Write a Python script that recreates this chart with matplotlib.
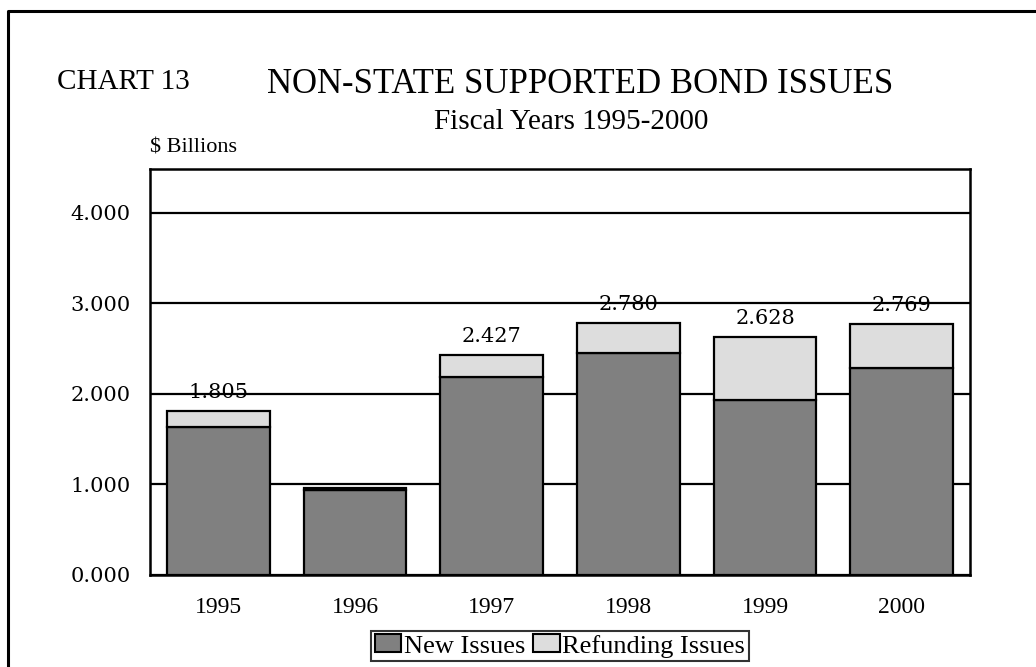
import matplotlib
matplotlib.use("Agg")
import matplotlib.pyplot as plt
from matplotlib.lines import Line2D
from matplotlib.patches import Patch
from matplotlib.ticker import FormatStrFormatter

years = ["1995", "1996", "1997", "1998", "1999", "2000"]
new_issues = [1.635, 0.935, 2.190, 2.455, 1.930, 2.280]
refunding_issues = [0.170, 0.025, 0.237, 0.325, 0.698, 0.489]
total_labels = ["1.805", "", "2.427", "2.780", "2.628", "2.769"]
y_ticks = [0, 1, 2, 3, 4]

W, H = 1036, 667
fig = plt.figure(figsize=(W / 100, H / 100), dpi=100)

def fx(px):
    return px / W

def fy(py):
    return 1 - py / H

left, right, top, bottom = 150, 970, 169, 575
ax = fig.add_axes([fx(left), fy(bottom), fx(right - left), (bottom - top) / H])

dark = "#808080"
light = "#dddddd"
x = list(range(len(years)))
bw = 0.75
ax.bar(x, new_issues, width=bw, color=dark, edgecolor="black", linewidth=1.6, zorder=3)
ax.bar(x, refunding_issues, width=bw, bottom=new_issues, color=light,
       edgecolor="black", linewidth=1.6, zorder=3)

for i, lab in enumerate(total_labels):
    if lab:
        tot = new_issues[i] + refunding_issues[i]
        ax.annotate(lab, (x[i], tot), xytext=(0, 6.5), textcoords="offset points",
                    ha="center", va="bottom", fontsize=15, family="DejaVu Serif",
                    zorder=4)

ax.set_xlim(-0.5, len(years) - 0.5)
ax.set_ylim(0, 4.48)
ax.set_yticks(y_ticks)
ax.yaxis.set_major_formatter(FormatStrFormatter("%.3f"))
ax.set_xticks(x)
ax.set_xticklabels(years, family="Liberation Serif", fontsize=17)
for t in ax.get_yticklabels():
    t.set_family("DejaVu Serif")
    t.set_fontsize(15)
ax.tick_params(axis="both", length=0)
ax.tick_params(axis="y", pad=14)
ax.tick_params(axis="x", pad=16)
ax.yaxis.grid(True, color="black", linewidth=1.6, zorder=0)
ax.set_axisbelow(True)
for s in ax.spines.values():
    s.set_linewidth(1.8)
    s.set_color("black")

# texts
fig.text(fx(57), fy(89), "CHART 13", family="Liberation Serif", fontsize=21,
         ha="left", va="baseline")
fig.text(fx(580), fy(93), "NON-STATE SUPPORTED BOND ISSUES", family="Liberation Serif",
         fontsize=25, ha="center", va="baseline")
fig.text(fx(571), fy(129), "Fiscal Years 1995-2000", family="Liberation Serif",
         fontsize=21, ha="center", va="baseline")
fig.text(fx(150), fy(152), "$ Billions", family="Liberation Serif", fontsize=16,
         ha="left", va="baseline")

# legend
handles = [Patch(facecolor=dark, edgecolor="black", linewidth=1.5, label="New Issues"),
           Patch(facecolor=light, edgecolor="black", linewidth=1.5, label="Refunding Issues")]
leg = fig.legend(handles=handles, loc="center", bbox_to_anchor=(fx(560), fy(646)),
                 ncol=2, prop={"family": "Liberation Serif", "size": 19},
                 frameon=True, fancybox=False, shadow=False, borderpad=0.15,
                 handlelength=1.0, handleheight=0.65, handletextpad=0.1,
                 columnspacing=0.3, borderaxespad=0)
leg.get_frame().set_edgecolor("black")
leg.get_frame().set_linewidth(1.5)

# outer border (left & top)
fig.add_artist(Line2D([fx(8), fx(8), 1.0], [0.0, fy(11), fy(11)],
                      transform=fig.transFigure, color="black", linewidth=2.2))

fig.savefig("out.png", dpi=100)
